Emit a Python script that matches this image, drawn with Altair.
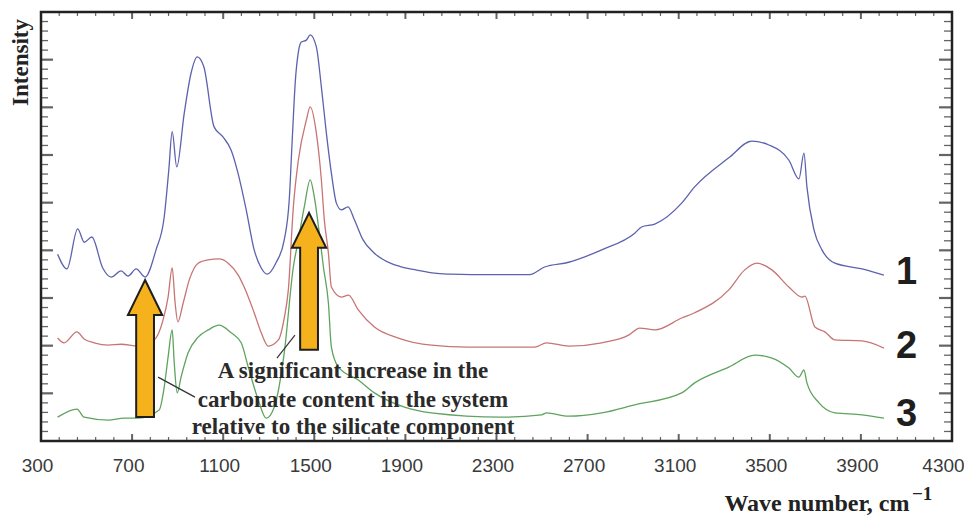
import altair as alt
import pandas as pd

# ---------------- data ----------------
wn1 = [373,414,461,490,523,571,608,652,682,718,757,805,841,861,876,896,929,959,986,1015,
       1060,1099,1135,1165,1201,1236,1267,1293,1333,1368,1390,1403,1417,1430,1443,1465,1482,
       1509,1531,1553,1575,1597,1619,1648,1676,1714,1764,1839,1878,1956,2028,2100,2190,2445,2511,2617,
       2762,2907,2937,2995,3113,3170,3320,3421,3496,3584,3628,3650,3663,3694,3729,3786,3905,4001]
int1 = [3.92,3.61,4.45,4.17,4.28,3.63,3.44,3.57,3.46,3.61,3.44,4.01,4.70,5.68,6.49,5.75,6.88,7.72,8.06,7.85,
        6.59,6.38,6.10,5.62,4.85,4.01,3.63,3.50,3.75,4.22,5.06,6.31,7.57,8.16,8.37,8.41,8.52,
        8.27,7.43,6.46,5.62,4.99,4.85,4.91,4.64,4.22,3.94,3.72,3.66,3.58,3.52,3.50,3.49,3.49,3.65,3.75,
        4.01,4.36,4.49,4.55,4.99,5.33,5.94,6.29,6.21,5.89,5.50,6.04,5.33,4.43,4.01,3.73,3.61,3.48]

wn2 = [373,401,458,489,533,595,652,726,797,836,858,876,889,901,924,951,990,1034,1082,1122,
       1166,1192,1236,1267,1298,1342,1368,1386,1408,1430,1465,1482,1509,1531,1544,1562,1575,
       1619,1650,1693,1764,1869,2014,2177,2467,2520,2617,2762,2880,2929,2995,3113,3170,3320,
       3390,3443,3509,3584,3641,3654,3698,3742,3786,3905,4001]
int2 = [2.16,2.06,2.29,2.14,2.06,2.01,2.03,1.99,2.12,2.54,3.02,3.63,2.89,2.50,2.89,3.38,3.73,3.80,3.82,3.73,
        3.48,3.23,2.69,2.27,1.99,2.12,2.58,3.17,4.91,5.89,6.73,7.01,6.46,5.48,4.64,3.94,3.23,
        3.02,3.06,2.75,2.39,2.16,2.01,1.97,1.97,2.06,1.99,2.06,2.22,2.37,2.33,2.58,2.69,3.17,
        3.59,3.73,3.59,3.23,3.02,3.04,2.39,2.29,2.12,2.10,1.95]

wn3 = [373,458,489,595,665,726,819,841,858,876,885,898,915,946,990,1034,1082,1135,1179,1210,
       1254,1289,1324,1368,1408,1430,1456,1482,1500,1522,1540,1562,1575,1606,1693,1764,1896,
       2014,2322,2498,2520,2617,2762,2907,3113,3170,3320,3434,3509,3584,3628,3650,3663,3716,
       3786,3905,4001]
int3 = [0.50,0.67,0.50,0.44,0.48,0.48,0.65,1.13,1.76,2.33,1.64,1.01,1.34,1.85,2.18,2.33,2.43,2.27,2.06,1.55,
        0.86,0.48,0.71,1.85,3.65,4.22,4.91,5.48,5.12,4.36,3.65,2.89,1.97,1.55,1.28,1.01,0.71,
        0.59,0.50,0.55,0.59,0.52,0.59,0.76,1.01,1.22,1.55,1.80,1.74,1.53,1.34,1.49,1.22,0.80,
        0.59,0.55,0.48]

series_names = ["1", "2", "3"]
series_colors = ["#5c62ad", "#c87474", "#5ea35e"]

x_tick_labels = [300, 700, 1100, 1500, 1900, 2300, 2700, 3100, 3500, 3900, 4300]

# curve number labels
label_text = ["1", "2", "3"]
label_wn = [4100, 4100, 4100]
label_val = [3.52, 1.97, 0.55]

# annotation text
note_lines = ["A significant increase in the",
              "carbonate content in the system",
              "relative to the silicate component"]
note_wn = [1670, 1670, 1670]
note_val = [1.47, 0.86, 0.29]

# arrows (centre of each arrow glyph)
arrow_wn = [757, 1477]
arrow_val = [1.94, 3.35]

# pointer lines
ptr_wn = [814, 1415]
ptr_val = [1.34, 2.22]
ptr_wn2 = [976, 1336]
ptr_val2 = [0.92, 1.74]

# ---------------- tables ----------------
rows = []
for name, w, v in zip(series_names, [wn1, wn2, wn3], [int1, int2, int3]):
    for a, b in zip(w, v):
        rows.append({"series": name, "wn": a, "val": b})
spec = pd.DataFrame(rows)

xs = alt.Scale(domain=[300, 4300], nice=False, zero=False)
ys = alt.Scale(domain=[0, 9], nice=False, zero=False)

x_axis = alt.Axis(
    values=x_tick_labels, format="d", ticks=False, tickSize=0, domain=False, grid=False,
    labelFont="Liberation Sans", labelFontSize=19, labelColor="#3a3a3a",
    labelPadding=15, labelOverlap=False, labelFlush=False, labelBound=False,
    labelOffset=alt.ExprRef(expr="datum.value == 4300 ? -9 : -4"),
    title="Wave number, cm", titleFont="Liberation Serif", titleFontSize=24,
    titleFontWeight="bold", titleColor="#222222", titleAlign="right",
    titleAnchor="end", titleX=868, titleY=69, titleBaseline="alphabetic")
y_axis = alt.Axis(
    labels=False, ticks=False, domain=False, grid=False,
    title="Intensity", titleFont="Liberation Serif", titleFontSize=23,
    titleFontWeight="bold", titleColor="#222222", titleAngle=270,
    titleAlign="center", titleBaseline="middle", titleX=-21, titleY=50)


def X(f):
    return alt.X(f, scale=xs, axis=x_axis)


def Y(f):
    return alt.Y(f, scale=ys, axis=y_axis)


x_major = list(range(700, 4000, 400))
x_minor = [v for v in range(380, 4300, 80) if (v - 300) % 400 != 0]
y_major = list(range(1, 9))
y_minor = [round(0.2 * i, 1) for i in range(1, 45) if i % 5 != 0]

lines = alt.Chart(spec).mark_line(strokeWidth=1.3, interpolate="monotone").encode(
    x=X("wn:Q"), y=Y("val:Q"),
    color=alt.Color("series:N", scale=alt.Scale(domain=series_names, range=series_colors), legend=None),
    detail="series:N",
)


def vticks(vals, yv, size, off, thick):
    df = pd.DataFrame({"wn": vals, "val": [yv] * len(vals)})
    return alt.Chart(df).mark_tick(orient="vertical", size=size, thickness=thick,
                                   color="#222222", yOffset=off).encode(
        x=X("wn:Q"), y=Y("val:Q"))


def hticks(vals, xv, size, off, thick):
    df = pd.DataFrame({"val": vals, "wn": [xv] * len(vals)})
    return alt.Chart(df).mark_tick(orient="horizontal", size=size, thickness=thick,
                                   color="#222222", xOffset=off).encode(
        x=X("wn:Q"), y=Y("val:Q"))


ticks = [
    vticks(x_major, 0, 7, -3.5, 2), vticks(x_minor, 0, 4, -2, 1.2),
    vticks(x_major, 9, 7, 3.5, 2), vticks(x_minor, 9, 4, 2, 1.2),
    hticks(y_major, 300, 12, 6, 2.2), hticks(y_minor, 300, 7, 3.5, 1.3),
    hticks(y_major, 4300, 13, -6.5, 2.2), hticks(y_minor, 4300, 8, -4, 1.3),
]

arrow_path = "M0,-1 L0.25,-0.49 L0.13,-0.49 L0.13,1 L-0.13,1 L-0.13,-0.49 L-0.25,-0.49 Z"
arrows = alt.Chart(pd.DataFrame({"wn": arrow_wn, "val": arrow_val})).mark_point(
    shape=arrow_path, size=18769, filled=True, fill="#f6b21d", stroke="#1e1e1e",
    strokeWidth=2, opacity=1).encode(x=X("wn:Q"), y=Y("val:Q"))

pointers = alt.Chart(pd.DataFrame({"wn": ptr_wn, "val": ptr_val, "x2": ptr_wn2, "y2": ptr_val2})).mark_rule(
    color="#333333", strokeWidth=1.2).encode(
    x=X("wn:Q"), y=Y("val:Q"), x2="x2:Q", y2="y2:Q")

notes = alt.Chart(pd.DataFrame({"t": note_lines, "wn": note_wn, "val": note_val})).mark_text(
    font="Liberation Serif", fontSize=23, fontWeight="bold", color="#2a2a2a",
    align="center", baseline="middle").encode(
    x=X("wn:Q"), y=Y("val:Q"), text="t:N")

nums = alt.Chart(pd.DataFrame({"t": label_text, "wn": label_wn, "val": label_val})).mark_text(
    font="Liberation Sans", fontSize=38, fontWeight="bold", color="#1e1e1e",
    align="center", baseline="middle").encode(
    x=X("wn:Q"), y=Y("val:Q"), text="t:N")

# superscript of the x-axis title ("cm" to the power -1)
sup = alt.Chart(pd.DataFrame({"t": ["\u22121"]})).mark_text(
    font="Liberation Serif", fontSize=19, fontWeight="bold", color="#222222",
    align="left", baseline="middle").encode(
    x=alt.value(871), y=alt.value(482), text="t:N")

chart = alt.layer(lines, *ticks, pointers, arrows, notes, nums, sup).properties(
    width=911, height=429,
    autosize=alt.AutoSizeParams(type="none"),
    padding={"left": 33, "top": 4, "right": 12, "bottom": 76},
    background="white",
).configure_view(stroke="#222222", strokeWidth=2.5)

chart.save("out.html", embed_options={"renderer": "svg", "actions": False})
